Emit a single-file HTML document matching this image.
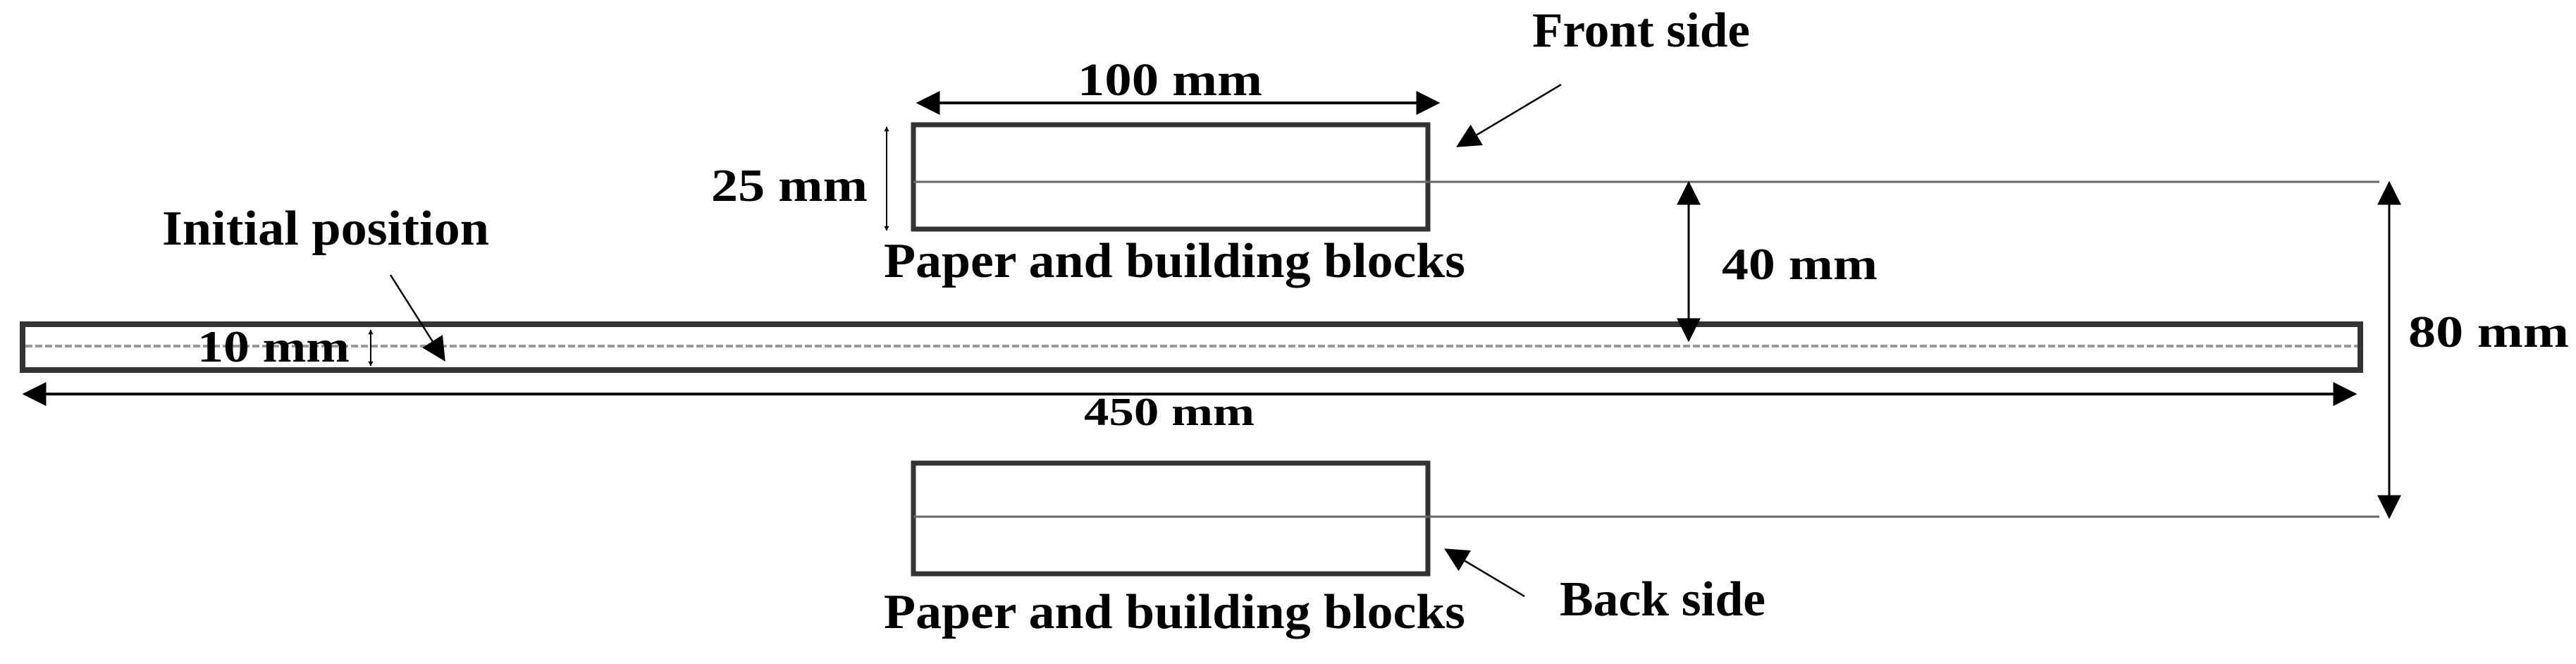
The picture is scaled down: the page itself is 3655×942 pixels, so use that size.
<!DOCTYPE html>
<html><head><meta charset="utf-8"><style>html,body{margin:0;padding:0;background:#fff}svg{display:block}</style></head>
<body>
<svg width="3655" height="942" viewBox="0 0 3655 942" xmlns="http://www.w3.org/2000/svg" font-family="'Liberation Serif', serif" font-weight="bold" fill="#000">
<defs>
<marker id="ah" viewBox="0 0 10 10" refX="9" refY="5" markerWidth="7" markerHeight="7" markerUnits="userSpaceOnUse" orient="auto-start-reverse"><path d="M0,0 L10,5 L0,10 z" fill="#000"/></marker>
<marker id="ab" viewBox="0 0 10 10" refX="9" refY="5" markerWidth="34" markerHeight="34" markerUnits="userSpaceOnUse" orient="auto-start-reverse"><path d="M0,0 L10,5 L0,10 z" fill="#000"/></marker>
</defs>
<rect x="1296" y="177" width="730" height="148" fill="none" stroke="#333" stroke-width="7"/>
<line x1="1296" y1="258" x2="3376" y2="258" stroke="#666" stroke-width="3"/>
<rect x="1296" y="657" width="730" height="157" fill="none" stroke="#333" stroke-width="7"/>
<line x1="1296" y1="733" x2="3376" y2="733" stroke="#666" stroke-width="3"/>
<rect x="32" y="460" width="3317" height="65" fill="none" stroke="#333" stroke-width="8"/>
<line x1="36" y1="491" x2="3345" y2="491" stroke="#999" stroke-width="4" stroke-dasharray="10,4"/>
<line x1="1303" y1="146" x2="2040" y2="146" stroke="#000" stroke-width="4" marker-start="url(#ab)" marker-end="url(#ab)"/>
<line x1="35" y1="559" x2="3341" y2="559" stroke="#000" stroke-width="4" marker-start="url(#ab)" marker-end="url(#ab)"/>
<line x1="2396" y1="260" x2="2396" y2="482" stroke="#000" stroke-width="3" marker-start="url(#ab)" marker-end="url(#ab)"/>
<line x1="3390" y1="260" x2="3390" y2="733" stroke="#000" stroke-width="3" marker-start="url(#ab)" marker-end="url(#ab)"/>
<line x1="1258" y1="180" x2="1258" y2="327" stroke="#000" stroke-width="2" marker-start="url(#ah)" marker-end="url(#ah)"/>
<line x1="526" y1="468" x2="526" y2="519" stroke="#000" stroke-width="2" marker-start="url(#ah)" marker-end="url(#ah)"/>
<line x1="554" y1="390" x2="630" y2="510" stroke="#000" stroke-width="2.5" marker-end="url(#ab)"/>
<line x1="2215" y1="120" x2="2069" y2="207" stroke="#000" stroke-width="2.5" marker-end="url(#ab)"/>
<line x1="2163" y1="846" x2="2052" y2="780" stroke="#000" stroke-width="2.5" marker-end="url(#ab)"/>
<text x="1529" y="135" font-size="66" textLength="262" lengthAdjust="spacingAndGlyphs">100 mm</text>
<text x="1009" y="285" font-size="66" textLength="222" lengthAdjust="spacingAndGlyphs">25 mm</text>
<text x="1254" y="393" font-size="70" textLength="825" lengthAdjust="spacingAndGlyphs">Paper and building blocks</text>
<text x="1254" y="891" font-size="70" textLength="825" lengthAdjust="spacingAndGlyphs">Paper and building blocks</text>
<text x="230" y="347" font-size="70" textLength="464" lengthAdjust="spacingAndGlyphs">Initial position</text>
<text x="280" y="513" font-size="64" textLength="216" lengthAdjust="spacingAndGlyphs">10 mm</text>
<text x="1538" y="603" font-size="56" textLength="242" lengthAdjust="spacingAndGlyphs">450 mm</text>
<text x="2443" y="396" font-size="64" textLength="221" lengthAdjust="spacingAndGlyphs">40 mm</text>
<text x="3417" y="492" font-size="64" textLength="228" lengthAdjust="spacingAndGlyphs">80 mm</text>
<text x="2174" y="66" font-size="70" textLength="309" lengthAdjust="spacingAndGlyphs">Front side</text>
<text x="2213" y="873" font-size="70" textLength="292" lengthAdjust="spacingAndGlyphs">Back side</text>
</svg>
</body></html>
